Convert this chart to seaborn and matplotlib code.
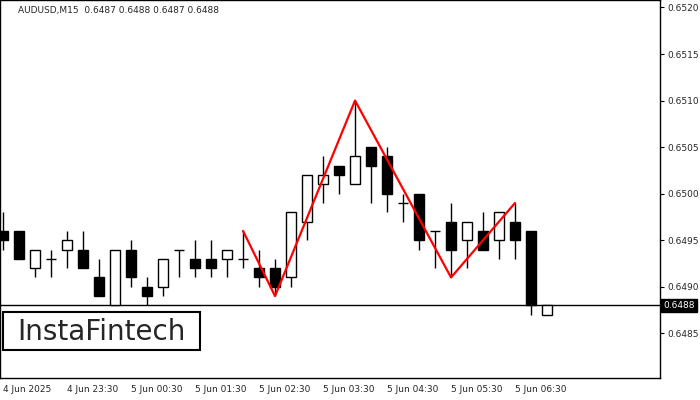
import matplotlib
matplotlib.use("Agg")
import matplotlib.pyplot as plt
import matplotlib.patches as mpatches
import seaborn as sns
import pandas as pd
import numpy as np

# candle data (AUDUSD M15)
opens  = [0.6496, 0.6496, 0.6492, 0.6493, 0.6494, 0.6494, 0.6491, 0.6488, 0.6494, 0.6490,
          0.6490, 0.6494, 0.6493, 0.6493, 0.6493, 0.6493, 0.6492, 0.6492, 0.6491, 0.6497,
          0.6501, 0.6503, 0.6501, 0.6505, 0.6504, 0.6499, 0.6500, 0.6496, 0.6497, 0.6495,
          0.6496, 0.6495, 0.6497, 0.6496, 0.6487]
highs  = [0.6498, 0.6496, 0.6494, 0.6494, 0.6496, 0.6496, 0.6493, 0.6494, 0.6495, 0.6491,
          0.6493, 0.6494, 0.6495, 0.6495, 0.6494, 0.6496, 0.6494, 0.6493, 0.6498, 0.6502,
          0.6504, 0.6503, 0.6510, 0.6505, 0.6505, 0.6500, 0.6500, 0.6496, 0.6499, 0.6497,
          0.6498, 0.6498, 0.6499, 0.6496, 0.6488]
lows   = [0.6494, 0.6493, 0.6491, 0.6491, 0.6492, 0.6492, 0.6489, 0.6488, 0.6490, 0.6488,
          0.6489, 0.6491, 0.6491, 0.6491, 0.6491, 0.6492, 0.6490, 0.6489, 0.6490, 0.6495,
          0.6499, 0.6500, 0.6501, 0.6499, 0.6498, 0.6497, 0.6494, 0.6492, 0.6491, 0.6492,
          0.6494, 0.6493, 0.6493, 0.6487, 0.6487]
closes = [0.6495, 0.6493, 0.6494, 0.6493, 0.6495, 0.6492, 0.6489, 0.6494, 0.6491, 0.6489,
          0.6493, 0.6494, 0.6492, 0.6492, 0.6494, 0.6493, 0.6491, 0.6490, 0.6498, 0.6502,
          0.6502, 0.6502, 0.6504, 0.6503, 0.6500, 0.6499, 0.6495, 0.6496, 0.6494, 0.6497,
          0.6494, 0.6498, 0.6495, 0.6488, 0.6488]

# double top pattern
pattern_idx = [15, 17, 22, 28, 32]
pattern_px = [0.6496, 0.6489, 0.6510, 0.6491, 0.6499]

tick_idx = [0, 4, 8, 12, 16, 20, 24, 28, 32]
tick_labels = ['4 Jun 2025', '4 Jun 23:30', '5 Jun 00:30', '5 Jun 01:30', '5 Jun 02:30',
               '5 Jun 03:30', '5 Jun 04:30', '5 Jun 05:30', '5 Jun 06:30']
ytick_vals = [0.6485, 0.6490, 0.6495, 0.6500, 0.6505, 0.6510, 0.6515, 0.6520]
last_price = 0.6488

sns.set_style("white")
fig = plt.figure(figsize=(7, 4), dpi=100)
ax = fig.add_axes([0.0, 0.055, 660 / 700, 0.945])

df = pd.DataFrame({'o': opens, 'h': highs, 'l': lows, 'c': closes})
df['x'] = np.arange(len(df))

ax.vlines(df['x'], df['l'], df['h'], color='black', linewidth=1, zorder=2)
bottom = df[['o', 'c']].min(axis=1)
height = (df['c'] - df['o']).abs()
face = ['white' if c >= o else 'black' for o, c in zip(df['o'], df['c'])]
ax.bar(df['x'], height, bottom=bottom, width=0.62, color=face, edgecolor='black',
       linewidth=1, zorder=3)

ax.axhline(last_price, color='black', linewidth=1, zorder=1)
sns.lineplot(x=pattern_idx, y=pattern_px, ax=ax, color='red', linewidth=1.6, zorder=4)

ax.set_xlim(-0.19, 41.06)
ax.set_ylim(0.64802, 0.65208)
ax.set_xticks(tick_idx)
ax.set_xticklabels(tick_labels, ha='left', fontsize=6.5)
ax.yaxis.tick_right()
ax.set_yticks(ytick_vals)
ax.set_yticklabels([f"{v:.4f}" for v in ytick_vals], fontsize=6.5)
ax.tick_params(axis='both', length=3, color='black', pad=2)
for s in ax.spines.values():
    s.set_color('black')
    s.set_linewidth(1)

ax.text(1.005, last_price, f"{last_price:.4f}", transform=ax.get_yaxis_transform(),
        va='center', ha='left', fontsize=6.5, color='white',
        bbox=dict(boxstyle='square,pad=0.2', fc='black', ec='black'))

ax.text(0.027, 0.985, "AUDUSD,M15  0.6487 0.6488 0.6487 0.6488", transform=ax.transAxes,
        va='top', ha='left', fontsize=6.5)

# logo box
fig.patches.append(mpatches.Rectangle((3 / 700, 1 - 350 / 400), 197 / 700, 38 / 400,
                                      transform=fig.transFigure, fc='white', ec='black',
                                      lw=1.5, zorder=10))
fig.text(101 / 700, 1 - 332 / 400, "InstaFintech", fontsize=20, va='center', ha='center',
         zorder=11)

fig.savefig("out.png", dpi=100)
